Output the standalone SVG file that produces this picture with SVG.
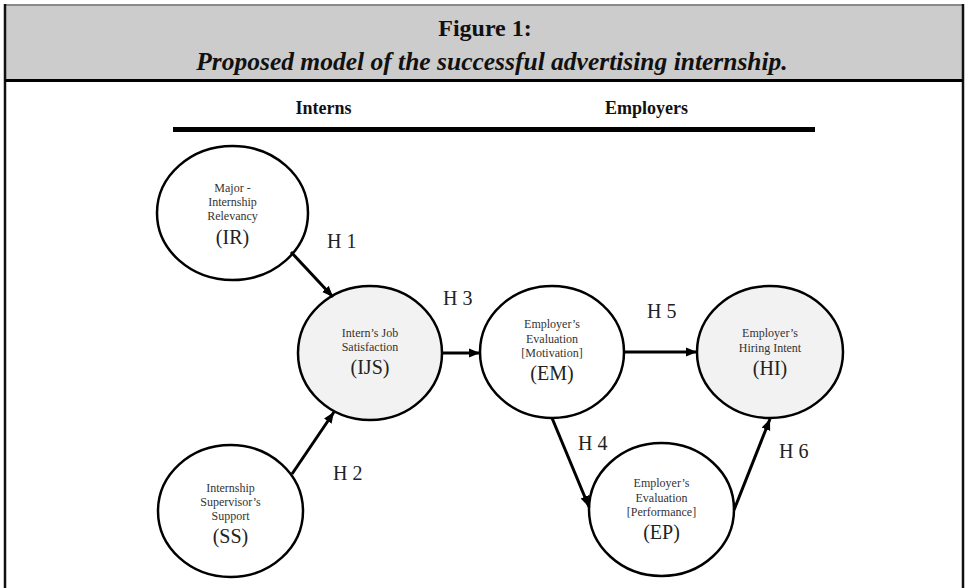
<svg xmlns="http://www.w3.org/2000/svg" width="968" height="588" viewBox="0 0 968 588">
<defs>
<marker id="ah" markerUnits="userSpaceOnUse" markerWidth="12" markerHeight="10" refX="11" refY="5" orient="auto">
<path d="M0,0.5 L11,5 L0,9.5 z" fill="#000"/>
</marker>
<style>
.ser{font-family:"Liberation Serif","Times New Roman",serif;}
.node ellipse{stroke:#000;stroke-width:2.5;}
.plain{fill:#fff;}
.shade{fill:#f2f2f2;}
.sm{font-size:12px;fill:#333;text-anchor:middle;}
.ab{font-size:20px;fill:#222;text-anchor:middle;}
.hl{font-size:20px;fill:#222;}
.conn line{stroke:#000;stroke-width:3;marker-end:url(#ah);}
</style>
</defs>
<rect x="0" y="0" width="968" height="588" fill="#fff"/>
<g id="header">
<rect x="5" y="5" width="958" height="75" fill="#cccccc"/>
<line x1="5" y1="5" x2="963" y2="5" stroke="#8a8a8a" stroke-width="2"/>
<line x1="5" y1="4" x2="5" y2="588" stroke="#111" stroke-width="2.5"/>
<line x1="963" y1="4" x2="963" y2="588" stroke="#111" stroke-width="2.5"/>
<line x1="5" y1="80.5" x2="963" y2="80.5" stroke="#000" stroke-width="3"/>
<text class="ser" x="485" y="36" font-size="24" font-weight="bold" text-anchor="middle" fill="#111">Figure 1:</text>
<text class="ser" x="492" y="70" font-size="25.5" font-weight="bold" font-style="italic" text-anchor="middle" fill="#111">Proposed model of the successful advertising internship.</text>
</g>
<g id="columns">
<text class="ser" x="323.5" y="114" font-size="18" font-weight="bold" text-anchor="middle" fill="#111">Interns</text>
<text class="ser" x="646.5" y="114" font-size="18" font-weight="bold" text-anchor="middle" fill="#111">Employers</text>
<rect x="173" y="127" width="642" height="5" fill="#000"/>
</g>
<g id="IR" class="node ser">
<ellipse class="plain" cx="232.5" cy="213" rx="75.5" ry="67"/>
<text class="sm" x="232.5" y="192">Major -</text>
<text class="sm" x="232.5" y="206">Internship</text>
<text class="sm" x="232.5" y="220">Relevancy</text>
<text class="ab" x="232.5" y="244">(IR)</text>
</g>
<g id="IJS" class="node ser">
<ellipse class="shade" cx="370" cy="353" rx="72" ry="67"/>
<text class="sm" x="370" y="337">Intern’s Job</text>
<text class="sm" x="370" y="351">Satisfaction</text>
<text class="ab" x="370" y="374">(IJS)</text>
</g>
<g id="SS" class="node ser">
<ellipse class="plain" cx="230.5" cy="511" rx="72.5" ry="66"/>
<text class="sm" x="230.5" y="492">Internship</text>
<text class="sm" x="230.5" y="506">Supervisor’s</text>
<text class="sm" x="230.5" y="520">Support</text>
<text class="ab" x="230.5" y="543">(SS)</text>
</g>
<g id="EM" class="node ser">
<ellipse class="plain" cx="552" cy="352" rx="72" ry="66"/>
<text class="sm" x="552" y="328">Employer’s</text>
<text class="sm" x="552" y="343">Evaluation</text>
<text class="sm" x="552" y="357">[Motivation]</text>
<text class="ab" x="552" y="380">(EM)</text>
</g>
<g id="HI" class="node ser">
<ellipse class="shade" cx="770" cy="352" rx="73" ry="66"/>
<text class="sm" x="770" y="337">Employer’s</text>
<text class="sm" x="770" y="352">Hiring Intent</text>
<text class="ab" x="770" y="375">(HI)</text>
</g>
<g id="EP" class="node ser">
<ellipse class="plain" cx="661.5" cy="509.5" rx="72.5" ry="66.5"/>
<text class="sm" x="661.5" y="487">Employer’s</text>
<text class="sm" x="661.5" y="502">Evaluation</text>
<text class="sm" x="661.5" y="516">[Performance]</text>
<text class="ab" x="661.5" y="539">(EP)</text>
</g>
<g id="connectors" class="conn">
<line x1="291" y1="252" x2="333" y2="297"/>
<line x1="292" y1="474" x2="334" y2="412"/>
<line x1="442" y1="353" x2="480" y2="353"/>
<line x1="624" y1="352" x2="697" y2="352"/>
<line x1="552" y1="418" x2="589" y2="507"/>
<line x1="734" y1="510" x2="770" y2="419"/>
</g>
<g id="labels" class="ser">
<text class="hl" x="327" y="248">H 1</text>
<text class="hl" x="333" y="480">H 2</text>
<text class="hl" x="443" y="305">H 3</text>
<text class="hl" x="578" y="450">H 4</text>
<text class="hl" x="647" y="318">H 5</text>
<text class="hl" x="779" y="458">H 6</text>
</g>
</svg>
